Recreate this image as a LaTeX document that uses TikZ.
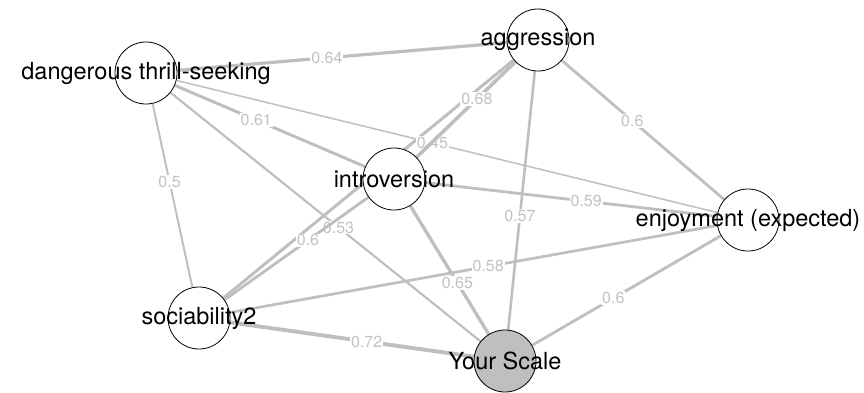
\documentclass[tikz,border=0pt]{standalone}
\usepackage{fontspec}
\setmainfont{TeX Gyre Heros}
\usetikzlibrary{backgrounds}
\definecolor{edgegray}{HTML}{BFBFBF}
\definecolor{labelgray}{HTML}{C2C2C2}
\tikzstyle{var-node}=[circle,draw=black,fill=white,line width=0.8pt,minimum size=62pt,inner sep=0pt]
\tikzstyle{scale-node}=[var-node,fill=edgegray]
\tikzstyle{name-label}=[font=\fontsize{23.5}{26}\selectfont,text=black,inner sep=0pt]
\tikzstyle{corr-label}=[fill=white,inner sep=1pt,text=labelgray,font=\fontsize{16}{18}\selectfont]
\tikzstyle{gray-line}=[draw=edgegray]

\begin{document}
\begin{tikzpicture}[x=1pt,y=-1pt]
        \useasboundingbox (0,0) rectangle (864,392);

        \begin{scope}
            \node (thrill)[var-node,label={[name-label]center:dangerous thrill-seeking}] at (146,73) {};
            \node (aggr)[var-node,label={[name-label]center:aggression}] at (538,40) {};
            \node (intro)[var-node,label={[name-label]center:introversion}] at (394,179) {};
            \node (enjoy)[var-node,label={[name-label]center:enjoyment (expected)}] at (748,220) {};
            \node (soc)[var-node,label={[name-label]center:sociability2}] at (199,318) {};
            \node (yours)[scale-node,label={[name-label]center:Your Scale}] at (505,361) {};
        \end{scope}

        \begin{scope}[on background layer, every edge/.style=gray-line]
            \path (soc) edge[line width=3pt] (aggr);
            \path (thrill) edge[line width=1.5pt] node[corr-label,pos=0.473] {0.45} (enjoy);
            \path (thrill) edge[line width=3.2pt] node[corr-label,pos=0.454] {0.64} (aggr);
            \path (thrill) edge[line width=2.95pt] node[corr-label,pos=0.428] {0.61} (intro);
            \path (thrill) edge[line width=1.95pt] node[corr-label,pos=0.427] {0.5} (soc);
            \path (thrill) edge[line width=2.2pt] node[corr-label,pos=0.542] {0.53} (yours);
            \path (intro) edge[line width=3.6pt] node[corr-label,pos=0.61] {0.68} (aggr);
            \path (aggr) edge[line width=2.85pt] node[corr-label,pos=0.434] {0.6} (enjoy);
            \path (aggr) edge[line width=2.6pt] node[corr-label,pos=0.56] {0.57} (yours);
            \path (intro) edge[line width=2.8pt] node[corr-label,pos=0.552] {0.59} (enjoy);
            \path (soc) edge[line width=2.85pt] node[corr-label,pos=0.58] {0.6} (intro);
            \path (intro) edge[line width=3.3pt] node[corr-label,pos=0.6] {0.65} (yours);
            \path (soc) edge[line width=2.7pt] node[corr-label,pos=0.53] {0.58} (enjoy);
            \path (soc) edge[line width=3.9pt] node[corr-label,pos=0.56] {0.72} (yours);
            \path (yours) edge[line width=2.85pt] node[corr-label,pos=0.43] {0.6} (enjoy);
        \end{scope}

    \end{tikzpicture}
\end{document}
